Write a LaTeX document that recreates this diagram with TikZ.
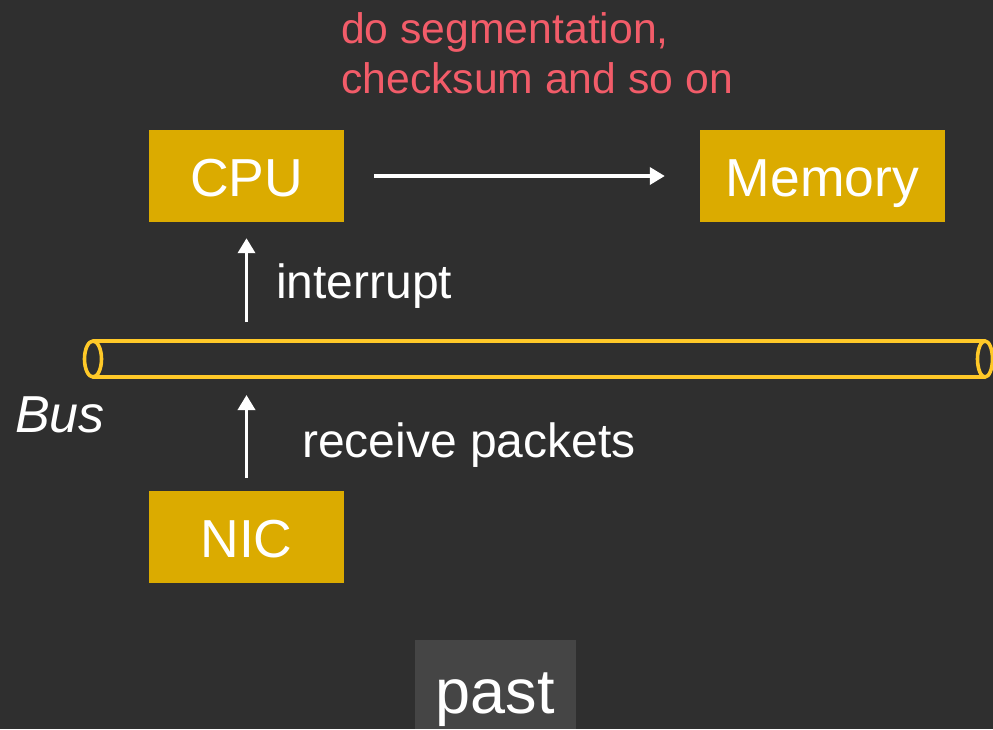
\documentclass[tikz,border=0pt]{standalone}
\usepackage{fontspec}
\setmainfont{Liberation Sans}
\usetikzlibrary{arrows.meta}
\definecolor{bg}{HTML}{2F2F2F}
\definecolor{gold}{HTML}{DBAB00}
\definecolor{busyellow}{HTML}{FFC928}
\definecolor{note}{HTML}{F25C69}
\definecolor{tag}{HTML}{454545}
\tikzset{
  unit/.style={fill=gold, text=white, inner sep=0pt, text height=40pt, text depth=0pt,
    minimum height=92pt, font=\fontsize{53.5}{60}\selectfont},
  lbl/.style={text=white, inner sep=0pt, anchor=base west, font=\fontsize{48}{56}\selectfont},
  notetext/.style={text=note, inner sep=0pt, anchor=base west, font=\fontsize{42.7}{50}\selectfont},
  arr/.style={draw=white, line width=3.5pt, -{Triangle[length=15pt,width=17pt]}},
  busline/.style={draw=busyellow, line width=3.6pt},
}
\begin{document}
\begin{tikzpicture}[x=1pt, y=-1pt]
  % canvas
  \fill[bg] (0,0) rectangle (993,729);
  \useasboundingbox (0,0) rectangle (993,729);

  % boxes
  \node[unit, minimum width=195pt] (cpu) at (246.5,176) {CPU};
  \node[unit, minimum width=245pt] (mem) at (822.5,176) {Memory};
  \node[unit, minimum width=195pt] (nic) at (246.5,537) {NIC};

  % note above
  \node[notetext] (note1) at (341,43) {do segmentation,};
  \node[notetext] (note2) at (341,93) {checksum and so on};

  % CPU -> Memory
  \draw[arr, shorten <=30pt, shorten >=35pt] (cpu.east) -- (mem.west);

  % bus cylinder
  \coordinate (busL) at (93,359);
  \coordinate (busR) at (985,359);
  \draw[busline] (93,341) -- (985,341);
  \draw[busline] (93,377) -- (985,377);
  \draw[busline, fill=bg] (busL) ellipse [x radius=8.5, y radius=18];
  \draw[busline, fill=bg] (busR) ellipse [x radius=7.5, y radius=18];
  \node[text=white, inner sep=0pt, anchor=base west, font=\itshape\fontsize{52}{60}\selectfont] (buslbl) at (15,432) {Bus};

  % interrupt: bus -> CPU
  \coordinate (ia) at (246.5,322);
  \draw[arr, shorten >=16pt] (ia) -- (cpu.south);
  \node[lbl] (intlbl) at (276,298) {interrupt};

  % receive packets: NIC -> bus
  \coordinate (ra) at (246.5,395);
  \draw[arr, shorten <=13pt] (nic.north) -- (ra);
  \node[lbl] (rcvlbl) at (302,457) {receive packets};

  % caption tag
  \fill[tag] (415,640) rectangle (576,729);
  \node[text=white, inner sep=0pt, anchor=base, font=\fontsize{63}{70}\selectfont] (past) at (495,713) {past};
\end{tikzpicture}
\end{document}
